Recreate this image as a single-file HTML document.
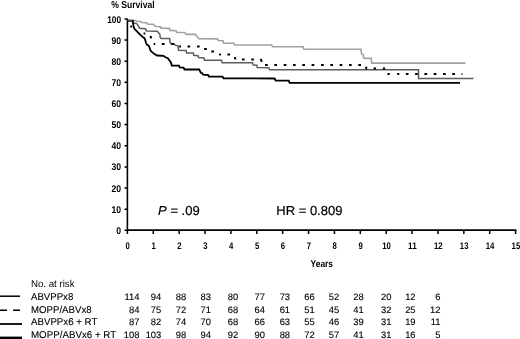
<!DOCTYPE html><html><head><meta charset="utf-8"><style>html,body{margin:0;padding:0;background:#fff;}svg{display:block;will-change:transform;}text{font-family:"Liberation Sans",sans-serif;text-rendering:geometricPrecision;}</style></head><body>
<svg width="520" height="339" viewBox="0 0 520 339">
<rect width="520" height="339" fill="#fff"/>
<text x="111.2" y="8.0" font-size="10" font-weight="bold" textLength="43.4" lengthAdjust="spacingAndGlyphs">% Survival</text>
<g stroke="#000" stroke-width="1.6" fill="none">
<path d="M127.40 18.70 V230.90 M126.60 230.10 H516.40"/>
<path d="M124.50 230.30H127.40M124.50 209.16H127.40M124.50 188.02H127.40M124.50 166.88H127.40M124.50 145.74H127.40M124.50 124.60H127.40M124.50 103.46H127.40M124.50 82.32H127.40M124.50 61.18H127.40M124.50 40.04H127.40M124.50 18.90H127.40M127.40 230.10V233.90M153.28 230.10V233.90M179.16 230.10V233.90M205.04 230.10V233.90M230.92 230.10V233.90M256.80 230.10V233.90M282.68 230.10V233.90M308.56 230.10V233.90M334.44 230.10V233.90M360.32 230.10V233.90M386.20 230.10V233.90M412.08 230.10V233.90M437.96 230.10V233.90M463.84 230.10V233.90M489.72 230.10V233.90M515.60 230.10V233.90" stroke-width="1.5"/>
</g>
<g font-size="9.8" font-weight="bold" text-anchor="end">
<text x="121.1" y="233.85" textLength="4.8" lengthAdjust="spacingAndGlyphs">0</text>
<text x="121.1" y="212.71" textLength="9.6" lengthAdjust="spacingAndGlyphs">10</text>
<text x="121.1" y="191.57" textLength="9.6" lengthAdjust="spacingAndGlyphs">20</text>
<text x="121.1" y="170.43" textLength="9.6" lengthAdjust="spacingAndGlyphs">30</text>
<text x="121.1" y="149.29" textLength="9.6" lengthAdjust="spacingAndGlyphs">40</text>
<text x="121.1" y="128.15" textLength="9.6" lengthAdjust="spacingAndGlyphs">50</text>
<text x="121.1" y="107.01" textLength="9.6" lengthAdjust="spacingAndGlyphs">60</text>
<text x="121.1" y="85.87" textLength="9.6" lengthAdjust="spacingAndGlyphs">70</text>
<text x="121.1" y="64.73" textLength="9.6" lengthAdjust="spacingAndGlyphs">80</text>
<text x="121.1" y="43.59" textLength="9.6" lengthAdjust="spacingAndGlyphs">90</text>
<text x="121.1" y="22.90" textLength="13.9" lengthAdjust="spacingAndGlyphs">100</text>
</g>
<g font-size="9.6" font-weight="bold" text-anchor="middle">
<text x="127.70" y="248.5" textLength="4.3" lengthAdjust="spacingAndGlyphs">0</text>
<text x="153.58" y="248.5" textLength="4.3" lengthAdjust="spacingAndGlyphs">1</text>
<text x="179.46" y="248.5" textLength="4.3" lengthAdjust="spacingAndGlyphs">2</text>
<text x="205.34" y="248.5" textLength="4.3" lengthAdjust="spacingAndGlyphs">3</text>
<text x="231.22" y="248.5" textLength="4.3" lengthAdjust="spacingAndGlyphs">4</text>
<text x="257.10" y="248.5" textLength="4.3" lengthAdjust="spacingAndGlyphs">5</text>
<text x="282.98" y="248.5" textLength="4.3" lengthAdjust="spacingAndGlyphs">6</text>
<text x="308.86" y="248.5" textLength="4.3" lengthAdjust="spacingAndGlyphs">7</text>
<text x="334.74" y="248.5" textLength="4.3" lengthAdjust="spacingAndGlyphs">8</text>
<text x="360.62" y="248.5" textLength="4.3" lengthAdjust="spacingAndGlyphs">9</text>
<text x="386.50" y="248.5" textLength="8.6" lengthAdjust="spacingAndGlyphs">10</text>
<text x="412.38" y="248.5" textLength="8.6" lengthAdjust="spacingAndGlyphs">11</text>
<text x="438.26" y="248.5" textLength="8.6" lengthAdjust="spacingAndGlyphs">12</text>
<text x="464.14" y="248.5" textLength="8.6" lengthAdjust="spacingAndGlyphs">13</text>
<text x="490.02" y="248.5" textLength="8.6" lengthAdjust="spacingAndGlyphs">14</text>
<text x="515.90" y="248.5" textLength="8.6" lengthAdjust="spacingAndGlyphs">15</text>
</g>
<text x="310.6" y="267.0" font-size="9.8" font-weight="bold" textLength="22.4" lengthAdjust="spacingAndGlyphs">Years</text>
<text x="158.1" y="214.9" font-size="13" stroke="#000" stroke-width="0.2"><tspan font-style="italic">P</tspan> = .09</text>
<text x="276.3" y="214.9" font-size="13" stroke="#000" stroke-width="0.2">HR = 0.809</text>
<text x="31.0" y="286.6" font-size="9.9" textLength="43.5" lengthAdjust="spacingAndGlyphs">No. at risk</text>
<g font-size="9.7" stroke="#000" stroke-width="0.12">
<text x="31.0" y="299.8" font-size="9.9" textLength="42.3" lengthAdjust="spacingAndGlyphs">ABVPPx8</text>
<text x="139.5" y="299.8" text-anchor="end" font-size="9.4">114</text>
<text x="161.3" y="299.8" text-anchor="end" font-size="9.4">94</text>
<text x="186.3" y="299.8" text-anchor="end" font-size="9.4">88</text>
<text x="211.0" y="299.8" text-anchor="end" font-size="9.4">83</text>
<text x="238.2" y="299.8" text-anchor="end" font-size="9.4">80</text>
<text x="264.9" y="299.8" text-anchor="end" font-size="9.4">77</text>
<text x="290.1" y="299.8" text-anchor="end" font-size="9.4">73</text>
<text x="314.7" y="299.8" text-anchor="end" font-size="9.4">66</text>
<text x="339.2" y="299.8" text-anchor="end" font-size="9.4">52</text>
<text x="363.7" y="299.8" text-anchor="end" font-size="9.4">28</text>
<text x="391.4" y="299.8" text-anchor="end" font-size="9.4">20</text>
<text x="415.6" y="299.8" text-anchor="end" font-size="9.4">12</text>
<text x="440.4" y="299.8" text-anchor="end" font-size="9.4">6</text>
<text x="31.0" y="312.6" font-size="9.9" textLength="60.6" lengthAdjust="spacingAndGlyphs">MOPP/ABVx8</text>
<text x="139.5" y="312.6" text-anchor="end" font-size="9.4">84</text>
<text x="161.3" y="312.6" text-anchor="end" font-size="9.4">75</text>
<text x="186.3" y="312.6" text-anchor="end" font-size="9.4">72</text>
<text x="211.0" y="312.6" text-anchor="end" font-size="9.4">71</text>
<text x="238.2" y="312.6" text-anchor="end" font-size="9.4">68</text>
<text x="264.9" y="312.6" text-anchor="end" font-size="9.4">64</text>
<text x="290.1" y="312.6" text-anchor="end" font-size="9.4">61</text>
<text x="314.7" y="312.6" text-anchor="end" font-size="9.4">51</text>
<text x="339.2" y="312.6" text-anchor="end" font-size="9.4">45</text>
<text x="363.7" y="312.6" text-anchor="end" font-size="9.4">41</text>
<text x="391.4" y="312.6" text-anchor="end" font-size="9.4">32</text>
<text x="415.6" y="312.6" text-anchor="end" font-size="9.4">25</text>
<text x="440.4" y="312.6" text-anchor="end" font-size="9.4">12</text>
<text x="31.0" y="325.3" font-size="9.9" textLength="66.3" lengthAdjust="spacingAndGlyphs">ABVPPx6 + RT</text>
<text x="139.5" y="325.3" text-anchor="end" font-size="9.4">87</text>
<text x="161.3" y="325.3" text-anchor="end" font-size="9.4">82</text>
<text x="186.3" y="325.3" text-anchor="end" font-size="9.4">74</text>
<text x="211.0" y="325.3" text-anchor="end" font-size="9.4">70</text>
<text x="238.2" y="325.3" text-anchor="end" font-size="9.4">68</text>
<text x="264.9" y="325.3" text-anchor="end" font-size="9.4">66</text>
<text x="290.1" y="325.3" text-anchor="end" font-size="9.4">63</text>
<text x="314.7" y="325.3" text-anchor="end" font-size="9.4">55</text>
<text x="339.2" y="325.3" text-anchor="end" font-size="9.4">46</text>
<text x="363.7" y="325.3" text-anchor="end" font-size="9.4">39</text>
<text x="391.4" y="325.3" text-anchor="end" font-size="9.4">31</text>
<text x="415.6" y="325.3" text-anchor="end" font-size="9.4">19</text>
<text x="440.4" y="325.3" text-anchor="end" font-size="9.4">11</text>
<text x="31.0" y="338.3" font-size="9.9" textLength="85.2" lengthAdjust="spacingAndGlyphs">MOPP/ABVx6 + RT</text>
<text x="139.5" y="338.3" text-anchor="end" font-size="9.4">108</text>
<text x="161.3" y="338.3" text-anchor="end" font-size="9.4">103</text>
<text x="186.3" y="338.3" text-anchor="end" font-size="9.4">98</text>
<text x="211.0" y="338.3" text-anchor="end" font-size="9.4">94</text>
<text x="238.2" y="338.3" text-anchor="end" font-size="9.4">92</text>
<text x="264.9" y="338.3" text-anchor="end" font-size="9.4">90</text>
<text x="290.1" y="338.3" text-anchor="end" font-size="9.4">88</text>
<text x="314.7" y="338.3" text-anchor="end" font-size="9.4">72</text>
<text x="339.2" y="338.3" text-anchor="end" font-size="9.4">57</text>
<text x="363.7" y="338.3" text-anchor="end" font-size="9.4">41</text>
<text x="391.4" y="338.3" text-anchor="end" font-size="9.4">31</text>
<text x="415.6" y="338.3" text-anchor="end" font-size="9.4">16</text>
<text x="440.4" y="338.3" text-anchor="end" font-size="9.4">5</text>
</g>
<g stroke="#000" fill="none">
<path d="M0 296.2H20" stroke-width="1.5"/>
<path d="M0 310.2H7M13 310.2H20" stroke-width="1.6"/>
<path d="M0 324H22" stroke-width="1.8"/>
<path d="M0 337.9H22" stroke-width="2.6"/>
</g>
<path d="M127.9 20.6 L135.7 20.6 L136.7 21.2 L140.9 21.5 L141.6 22.5 L146.8 22.8 L147.4 24.1 L153.3 24.4 L154.0 25.0 L155.0 25.8 L155.9 26.5 L160.5 26.8 L161.1 28.1 L169.6 28.4 L170.2 30.4 L176.1 30.7 L176.7 32.5 L184.9 32.5 L185.9 34.4 L195.6 34.4 L196.6 36.1 L197.6 37.0 L198.9 38.7 L217.5 38.9 L218.4 40.5 L223.0 40.8 L223.6 43.1 L234.0 43.3 L234.7 45.0 L271.6 45.0 L272.6 46.8 L303.0 46.8 L303.9 49.3 L360.9 49.3 L361.5 53.9 L363.3 54.5 L363.7 58.2 L371.4 58.4 L371.6 63.1 L465.4 63.1" fill="none" stroke="#a2a2a2" stroke-width="1.6"/>
<path d="M127.9 20.7 L132.7 20.7 L133.1 23.1 L136.4 23.5 L137.4 24.4 L138.0 25.7 L139.0 27.0 L139.6 28.3 L145.5 28.7 L146.1 30.5 L146.8 31.1 L157.2 31.2 L158.5 32.7 L159.8 34.0 L160.2 37.5 L161.1 38.4 L169.6 38.5 L170.2 42.5 L171.1 43.8 L174.4 44.1 L175.4 45.4 L178.0 45.7 L178.6 50.3 L186.1 50.5 L186.6 53.0 L193.4 53.1 L193.7 55.3 L198.0 55.7 L198.6 57.6 L204.1 58.0 L204.5 60.2 L221.5 60.3 L222.1 62.7 L252.5 62.7 L253.3 65.0 L256.9 65.2 L257.2 67.6 L268.8 67.8 L269.6 69.8 L418.5 69.8 L418.5 78.5 L473.5 78.5" fill="none" stroke="#5c5c5c" stroke-width="1.5"/>
<path d="M130.2 26.4L132.2 26.4M143.5 33.6L145.3 33.6M150.3 36.0L151.4 38.4M153.7 44.0L155.2 44.0M161.8 44.1L164.6 44.1M171.3 44.1L174.1 44.1M179.2 46.6L181.0 46.6M187.5 46.6L190.2 46.6M197.0 46.6L199.6 46.6M204.1 48.9L206.8 48.9M211.3 51.5L214.0 51.5M219.7 53.6L220.3 55.3M227.4 54.6L230.0 54.6M235.0 57.0L235.3 59.5M242.0 59.5L244.6 59.5M251.3 59.5L253.9 59.5M260.6 58.8L261.9 61.8M265.0 64.9L267.7 64.9M274.3 64.9L277.0 64.9M283.7 64.9L286.4 64.9M293.0 64.9L295.7 64.9M302.3 64.9L305.0 64.9M311.6 64.9L314.3 64.9M321.0 64.9L323.7 64.9M330.3 64.9L333.0 64.9M339.6 64.9L342.3 64.9M349.0 64.9L351.7 64.9M358.3 64.9L361.0 64.9M366.2 66.8L366.2 69.3M373.6 68.4L376.0 68.4M382.8 68.4L385.2 68.4M387.5 74.0L389.8 74.0M397.2 74.0L399.3 74.0M405.8 74.1L408.5 74.1M415.1 74.1L417.8 74.1M424.4 74.1L427.1 74.1M433.7 74.1L436.4 74.1M443.0 74.1L445.7 74.1M452.3 74.1L455.0 74.1M461.5 74.1L462.4 74.1" fill="none" stroke="#000" stroke-width="2"/>
<path d="M127.9 20.7 L132.7 20.7 L133.1 23.8 L133.5 25.7 L133.9 27.4 L134.5 29.0 L135.5 29.8 L136.5 30.8 L137.4 31.8 L138.4 32.8 L139.4 34.0 L140.4 34.9 L141.6 35.9 L142.5 36.8 L143.4 37.4 L144.2 38.0 L145.0 39.2 L145.9 42.5 L146.9 44.8 L148.5 45.4 L149.2 46.7 L150.2 49.6 L151.1 51.3 L152.8 52.6 L154.1 53.9 L155.7 54.8 L157.0 55.5 L163.5 55.8 L164.8 56.8 L166.0 57.5 L167.9 58.2 L169.2 60.1 L170.5 61.7 L171.2 63.4 L171.8 65.6 L179.0 65.6 L179.6 67.3 L183.5 67.6 L184.5 69.5 L199.2 69.5 L200.2 71.5 L200.8 72.8 L202.1 73.1 L203.1 74.7 L208.3 75.0 L208.9 76.7 L222.6 76.7 L223.5 78.4 L274.6 78.5 L275.7 80.5 L288.7 80.7 L289.6 82.9 L460.0 82.9" fill="none" stroke="#000" stroke-width="1.8"/>
<path d="M127.9 20.6H132.4" stroke="#4a4a4a" stroke-width="1.3"/>
</svg></body></html>
